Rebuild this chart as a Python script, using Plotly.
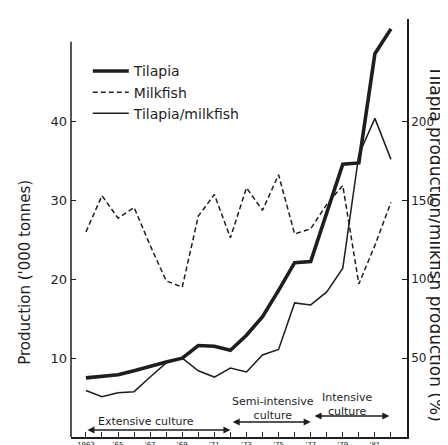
import plotly.graph_objects as go

years = list(range(1963, 1983))
tilapia = [7.5, 7.75, 7.9, 8.4, 9.0, 9.5, 10.0, 11.6, 11.5, 11.0, 12.9, 15.25, 18.6, 22.1, 22.25, 28.4, 34.6, 34.75, 48.6, 51.75]
milkfish = [26.0, 30.6, 27.75, 29.1, 24.3, 19.8, 19.0, 28.0, 30.75, 25.25, 31.6, 28.75, 33.25, 25.75, 26.4, 29.5, 31.9, 19.4, 24.3, 29.75]
ratio_pct = [29.5, 25.5, 28.0, 28.75, 38.0, 47.0, 50.0, 42.0, 38.0, 43.75, 41.25, 52.0, 55.5, 85.0, 83.75, 92.0, 107.0, 179.0, 202.0, 176.0]

xtick_vals = list(range(1963, 1983))
xtick_text = ["1963" if y == 1963 else ("'%02d" % (y % 100) if y % 2 == 1 else "") for y in xtick_vals]
left_ticks = [10, 20, 30, 40]
right_ticks = [50, 100, 150, 200]

ink = "#1e1e1e"
font_fam = "DejaVu Sans, Liberation Sans, sans-serif"

fig = go.Figure()
fig.add_trace(go.Scatter(x=years, y=tilapia, mode="lines", name="Tilapia",
                         line=dict(color=ink, width=3.6)))
fig.add_trace(go.Scatter(x=years, y=milkfish, mode="lines", name="Milkfish",
                         line=dict(color=ink, width=1.5, dash="5px,3px")))
fig.add_trace(go.Scatter(x=years, y=ratio_pct, mode="lines", name="Tilapia/milkfish",
                         line=dict(color=ink, width=1.5), yaxis="y2"))

fig.update_layout(
    width=448, height=445,
    margin=dict(l=63, r=49, t=11, b=16, autoexpand=False),
    paper_bgcolor="white", plot_bgcolor="white",
    font=dict(family=font_fam, color=ink, size=12),
    showlegend=True,
    legend=dict(x=0.05, y=0.913, xanchor="left", yanchor="top",
                font=dict(size=14, color=ink), bgcolor="rgba(0,0,0,0)",
                tracegroupgap=0, itemwidth=36),
    xaxis=dict(range=[1962.07, 1983.0], showgrid=False, zeroline=False, automargin=False,
               showline=True, linecolor=ink, linewidth=1.5,
               tickmode="array", tickvals=xtick_vals, ticktext=xtick_text,
               ticks="inside", ticklen=5, tickwidth=1.2, tickcolor=ink,
               tickfont=dict(size=7, color=ink)),
    yaxis=dict(range=[0, 53], showgrid=False, zeroline=False, showline=False, automargin=False,
               tickmode="array", tickvals=left_ticks, ticklabelstandoff=3,
               ticks="inside", ticklen=5, tickwidth=1.2, tickcolor=ink,
               tickfont=dict(size=13, color=ink)),
    yaxis2=dict(range=[0, 265], overlaying="y", side="right", showgrid=False, automargin=False,
                zeroline=False, showline=True, linecolor=ink, linewidth=1.5,
                tickmode="array", tickvals=right_ticks,
                ticks="inside", ticklen=5, tickwidth=1.2, tickcolor=ink,
                tickfont=dict(size=12, color=ink)),
)

# left axis line (shorter than the plot height)
fig.add_shape(type="line", xref="paper", yref="y", x0=0, x1=0, y0=0, y1=50.1,
              line=dict(color=ink, width=1.5))

# axis titles
fig.add_annotation(text="Production ('000 tonnes)", xref="paper", yref="paper",
                   x=-0.137, y=0.395, xanchor="center", yanchor="middle",
                   textangle=-90, showarrow=False, font=dict(size=15, color=ink))
fig.add_annotation(text="Tilapia production/milkfish production (%)", xref="paper", yref="paper",
                   x=1.086, y=0.462, xanchor="center", yanchor="middle",
                   textangle=90, showarrow=False, font=dict(size=17, color=ink))

# culture phase arrows
arrows = [(1963, 1972, 0.89), (1972.05, 1977.0, 1.9), (1977.15, 1981.9, 2.66)]
for x0, x1, yv in arrows:
    fig.add_annotation(x=x1, y=yv, ax=x0, ay=yv, xref="x", yref="y", axref="x", ayref="y",
                       text="", showarrow=True, arrowhead=2, arrowsize=1.0, arrowwidth=1.4,
                       arrowside="end+start", arrowcolor=ink)

fig.add_annotation(text="Extensive culture", x=1966.77, y=2.02, xref="x", yref="y",
                   showarrow=False, font=dict(size=11, color=ink))
fig.add_annotation(text="Semi-intensive<br>culture", x=1974.64, y=3.67, xref="x", yref="y",
                   showarrow=False, font=dict(size=11, color=ink))
fig.add_annotation(text="Intensive<br>culture", x=1979.3, y=4.17, xref="x", yref="y",
                   showarrow=False, font=dict(size=11, color=ink))

fig.write_html("out.html")
